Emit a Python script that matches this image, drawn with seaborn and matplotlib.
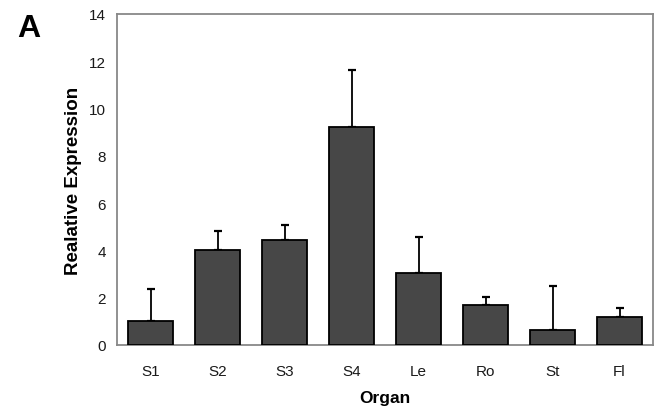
import numpy as np
import pandas as pd
import matplotlib
matplotlib.use("Agg")
import matplotlib.pyplot as plt
import seaborn as sns

organs = ["S1", "S2", "S3", "S4", "Le", "Ro", "St", "Fl"]
expression = [1.0, 4.02, 4.45, 9.21, 3.05, 1.69, 0.65, 1.17]
error_upper = [1.37, 0.81, 0.62, 2.42, 1.50, 0.35, 1.85, 0.41]
y_ticks = [0, 2, 4, 6, 8, 10, 12, 14]

sns.set_style("white")
plt.rcParams['font.family'] = ['Liberation Sans', 'DejaVu Sans']
plt.rcParams['text.color'] = 'black'

fig = plt.figure(figsize=(6.62, 4.10), dpi=100)
ax = fig.add_axes([117/662, 1 - 346/410, (653 - 117)/662, (346 - 15)/410])

df = pd.DataFrame({"Organ": organs, "Expression": expression})
sns.barplot(data=df, x="Organ", y="Expression", color="#474747", width=0.67,
            edgecolor="black", linewidth=1.3, saturation=1, ax=ax, errorbar=None)
for p in ax.patches:
    p.set_zorder(3)

xpos = np.arange(len(organs))
ax.errorbar(xpos, expression, yerr=[np.zeros(len(organs)), error_upper],
            fmt="none", ecolor="black", elinewidth=1.3, capsize=3, capthick=1.6, zorder=2)

ax.set_ylim(0, 14)
ax.set_xlim(-0.5, len(organs) - 0.5)
ax.set_yticks(y_ticks)
ax.set_yticklabels([str(t) for t in y_ticks], fontsize=11, color="#1a1a1a")
ax.set_xticks(xpos)
ax.set_xticklabels(organs, fontsize=11, color="#1a1a1a")
ax.tick_params(axis="x", which="major", length=0, pad=14)
ax.set_xticks(np.arange(-0.5, len(organs)), minor=True)
ax.tick_params(axis="x", which="minor", length=5, color="#888888", width=1, direction="out")
ax.tick_params(axis="y", which="major", length=4, color="#888888", width=1, direction="out", pad=4)

for s in ax.spines.values():
    s.set_visible(True)
    s.set_color("#888888")
    s.set_linewidth(1.3)

ax.set_ylabel("Realative Expression", fontsize=13.5, fontweight="bold", labelpad=5, color="black")
ax.set_xlabel("Organ", fontsize=12.5, fontweight="bold", labelpad=8, color="black")

fig.text(17/662, 1 - 37/410, "A", fontsize=23, fontweight="bold", color="black")

fig.savefig("out.png", dpi=100)
